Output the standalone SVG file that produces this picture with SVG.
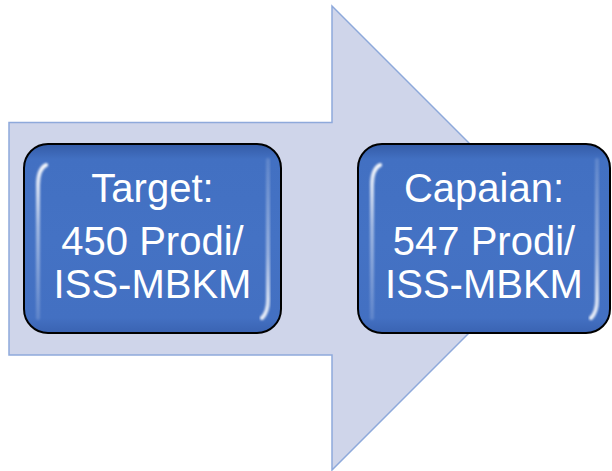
<svg xmlns="http://www.w3.org/2000/svg" width="612" height="471" viewBox="0 0 612 471">
  <defs>
    <linearGradient id="boxFill" x1="0" y1="0" x2="0" y2="1">
      <stop offset="0" stop-color="#345BA6"/>
      <stop offset="0.08" stop-color="#4270C2"/>
      <stop offset="0.5" stop-color="#4472C4"/>
      <stop offset="0.92" stop-color="#4370C2"/>
      <stop offset="1" stop-color="#3A63B2"/>
    </linearGradient>
    <linearGradient id="shineV" x1="0" y1="0" x2="0" y2="1">
      <stop offset="0" stop-color="#ffffff" stop-opacity="0.95"/>
      <stop offset="0.4" stop-color="#ffffff" stop-opacity="0.5"/>
      <stop offset="1" stop-color="#ffffff" stop-opacity="0.15"/>
    </linearGradient>
    <linearGradient id="shineR" x1="0" y1="0" x2="0" y2="1">
      <stop offset="0" stop-color="#ffffff" stop-opacity="0.15"/>
      <stop offset="0.6" stop-color="#ffffff" stop-opacity="0.45"/>
      <stop offset="1" stop-color="#ffffff" stop-opacity="0.9"/>
    </linearGradient>
    <filter id="soft" x="-50%" y="-10%" width="200%" height="120%">
      <feGaussianBlur stdDeviation="1"/>
    </filter>
  </defs>
  <style>
    .arrow { fill: #CFD5EA; stroke: #8EA9DB; stroke-width: 1.5; }
    .box { fill: url(#boxFill); stroke: #000000; stroke-width: 2; }
    .shineL { fill: none; stroke: url(#shineV); stroke-width: 4; stroke-linecap: round; filter: url(#soft); }
    .shineRt { fill: none; stroke: url(#shineR); stroke-width: 4; stroke-linecap: round; filter: url(#soft); }
    .label { fill: #ffffff; font-family: "Liberation Sans", Arial, sans-serif; font-size: 40px; text-anchor: middle; }
  </style>

  <!-- background block arrow -->
  <g id="arrow">
    <path class="arrow" d="M9,122.5 H332 V6 L564,238 L332,470 V355 H9 Z"/>
  </g>

  <!-- left box: target -->
  <g id="target">
    <rect class="box" x="24" y="144" width="257" height="189" rx="24" ry="24"/>
    <path class="shineL" d="M46,165 Q38,169 38,185 V318"/>
    <path class="shineRt" d="M268,160 V300 Q268,312 262,318"/>
    <text class="label" x="152.5" y="202">Target:</text>
    <text class="label" x="152.5" y="255">450 Prodi/</text>
    <text class="label" x="152.5" y="298">ISS-MBKM</text>
  </g>

  <!-- right box: achievement -->
  <g id="capaian">
    <rect class="box" x="358" y="144" width="252" height="189" rx="24" ry="24"/>
    <path class="shineL" d="M380,165 Q372,169 372,185 V318"/>
    <path class="shineRt" d="M597,160 V300 Q597,312 591,318"/>
    <text class="label" x="484" y="202">Capaian:</text>
    <text class="label" x="484" y="255">547 Prodi/</text>
    <text class="label" x="484" y="298">ISS-MBKM</text>
  </g>

  <g id="connectors"/>
</svg>
